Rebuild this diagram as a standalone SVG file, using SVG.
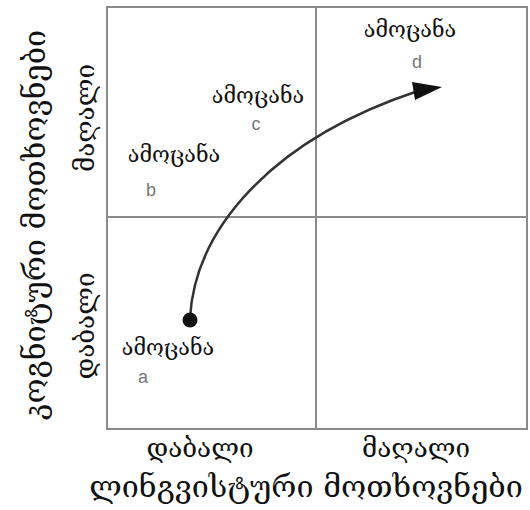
<svg xmlns="http://www.w3.org/2000/svg" width="530" height="510" viewBox="0 0 530 510">
<defs>
<style>
.grid{fill:none;stroke:#8a8a8a;stroke-width:2}
.t{font-family:"DejaVu Serif","DejaVu Sans",serif;fill:#111}
.lbl{font-size:21.5px;text-anchor:middle}
.ax{font-size:26px;text-anchor:middle}
.big{font-size:30.5px;text-anchor:middle}
.let{font-family:"Liberation Sans",sans-serif;font-size:18px;fill:#777;text-anchor:middle}
</style>
</defs>
<rect width="530" height="510" fill="#fff"/>
<g id="grid">
<rect class="grid" x="107" y="7" width="420" height="422"/>
<line class="grid" x1="316" y1="7" x2="316" y2="429"/>
<line class="grid" x1="107" y1="217" x2="527" y2="217"/>
</g>
<g id="connectors">
<path d="M190,318 C195,230 270,140 418,91" fill="none" stroke="#333" stroke-width="2.5"/>
<path d="M412,82 L442,87 L415,100 Z" fill="#111"/>
</g>
<g id="node-a">
<circle cx="190" cy="320" r="7.5" fill="#111"/>
<text class="t lbl" x="168" y="355">ამოცანა</text>
<text class="let" x="143" y="383">a</text>
</g>
<g id="node-b">
<text class="t lbl" x="174" y="162">ამოცანა</text>
<text class="let" x="151" y="196">b</text>
</g>
<g id="node-c">
<text class="t lbl" x="258" y="103">ამოცანა</text>
<text class="let" x="256" y="130">c</text>
</g>
<g id="node-d">
<text class="t lbl" x="410" y="37">ამოცანა</text>
<text class="let" x="417" y="68">d</text>
</g>
<g id="axis-labels">
<text class="t ax" transform="translate(94,118) rotate(-90)">მაღალი</text>
<text class="t ax" transform="translate(94,326) rotate(-90)">დაბალი</text>
<text class="t big" transform="translate(45,225) rotate(-90)">კოგნიტური მოთხოვნები</text>
<text class="t ax" x="200" y="457">დაბალი</text>
<text class="t ax" x="416" y="457">მაღალი</text>
<text class="t big" x="306" y="497">ლინგვისტური მოთხოვნები</text>
</g>
</svg>
